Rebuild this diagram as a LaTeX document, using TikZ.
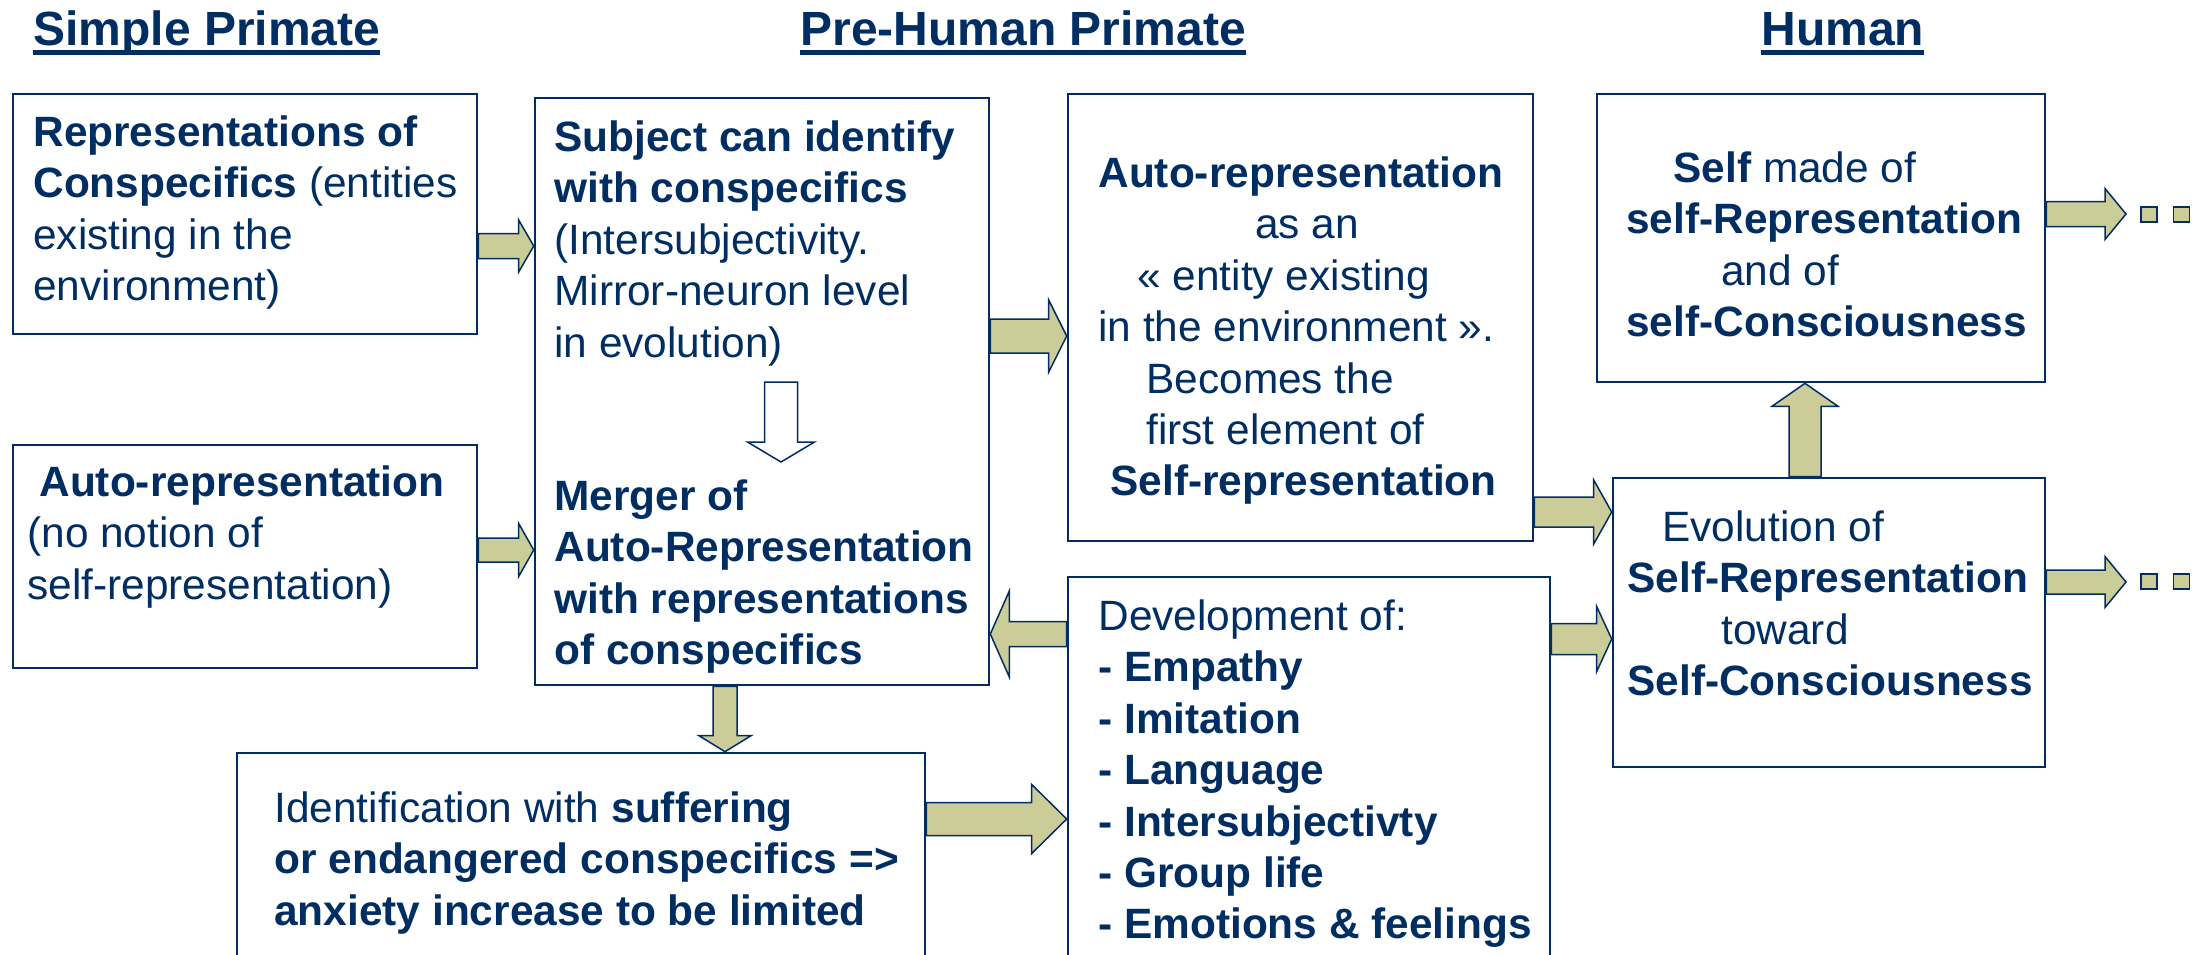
\documentclass[tikz,border=0pt]{standalone}
\usepackage{fontspec}
\setmainfont{Liberation Sans}
\usetikzlibrary{calc,fit}

\definecolor{navy}{RGB}{0,45,98}
\definecolor{khaki}{RGB}{204,204,153}
\newcommand{\topstrut}{\rule{0pt}{17pt}}
\newcommand{\titleline}[1]{\setbox0\hbox{#1}\rlap{\rule[-5pt]{\wd0}{2.4pt}}\box0}

% block arrow: [fill]{from}{to}{shaft half width}{head half width}{head length}
\newcommand{\flowarrow}[6][khaki]{%
  \path (#2) coordinate (fa-s) (#3) coordinate (fa-e);
  \path ($(fa-e)!#6!(fa-s)$) coordinate (fa-h);
  \draw[flow, fill=#1] ($(fa-s)!#4!90:(fa-e)$) -- ($(fa-h)!#4!90:(fa-e)$)
    -- ($(fa-h)!#5!90:(fa-e)$) -- (fa-e) -- ($(fa-h)!#5!-90:(fa-e)$)
    -- ($(fa-h)!#4!-90:(fa-e)$) -- ($(fa-s)!#4!-90:(fa-e)$) -- cycle;
}

\tikzset{
  box/.style={draw=navy, line width=1.3pt, inner sep=0pt},
  txt/.style={anchor=north west, align=left, inner sep=0pt, text=navy,
    font=\fontsize{21.2}{25.7}\selectfont},
  title/.style={anchor=base west, inner sep=0pt, text=navy,
    font=\fontsize{24}{29}\selectfont\bfseries},
  flow/.style={draw=navy, line width=0.75pt, line join=miter},
  endsq/.style={draw=navy, fill=khaki, line width=0.75pt, inner sep=0pt,
    minimum width=8pt, minimum height=7.5pt},
}

\begin{document}
\begin{tikzpicture}[x=0.5pt,y=-0.5pt]
\useasboundingbox (0,0) rectangle (2207,954);
\clip (0,0) rectangle (2207,954);
%% titles
\node[title] (tSimple) at (33,45) {\titleline{Simple Primate}};
\node[title] (tPre) at (800,45) {\titleline{Pre-Human Primate}};
\node[title] (tHuman) at (1761,45) {\titleline{Human}};
%% boxes
\node[box, fit={(13,94) (477,334)}] (RC) {};
\node[box, fit={(13,445) (477,668)}] (AR) {};
\node[box, fit={(535,98) (989,685)}] (SI) {};
\node[box, fit={(237,753) (925,975)}] (IS) {};
\node[box, fit={(1068,94) (1533,541)}] (AE) {};
\node[box, fit={(1068,577) (1550,975)}] (DV) {};
\node[box, fit={(1597,94) (2045,382)}] (SM) {};
\node[box, fit={(1613,478) (2045,767)}] (ES) {};
%% texts
\node[txt] (RCt) at (33,112) {\topstrut\textbf{Representations of}\\
  \textbf{Conspecifics} (entities\\ existing in the\\ environment)};
\node[txt] (ARt) at (27,462) {\topstrut\hspace*{6pt}\textbf{Auto-representation}\\
  (no notion of\\ self-representation)};
\node[txt] (SIt) at (554,117) {\topstrut\textbf{Subject can identify}\\
  \textbf{with conspecifics}\\ (Intersubjectivity.\\ Mirror-neuron level\\ in evolution)};
\node[txt] (SImrg) at (554,476) {\topstrut\textbf{Merger of}\\
  \textbf{Auto-Representation}\\ \textbf{with representations}\\ \textbf{of conspecifics}};
\node[txt] (ISt) at (274,788) {\topstrut Identification with \textbf{suffering}\\
  \textbf{or endangered conspecifics =>}\\ \textbf{anxiety increase to be limited}};
\node[txt] (AEt) at (1098,153) {\topstrut\textbf{Auto-representation}\\
  \hspace*{78.5pt}as an\\ \hspace*{19.5pt}« entity existing\\ in the environment ».\\
  \hspace*{24pt}Becomes the\\ \hspace*{24pt}first element of\\
  \hspace*{6pt}\textbf{Self-representation}};
\node[txt] (DVt) at (1098,596) {\topstrut Development of:\\ \textbf{- Empathy}\\
  \textbf{- Imitation}\\ \textbf{- Language}\\ \textbf{- Intersubjectivty}\\
  \textbf{- Group life}\\ \textbf{- Emotions \& feelings}};
\node[txt] (SMt) at (1626,148) {\topstrut\hspace*{23.5pt}\textbf{Self} made of\\
  \textbf{self-Representation}\\ \hspace*{47.5pt}and of\\ \textbf{self-Consciousness}};
\node[txt] (ESt) at (1627,507) {\topstrut\hspace*{17.5pt}Evolution of\\
  \textbf{Self-Representation}\\ \hspace*{47pt}toward\\ \textbf{Self-Consciousness}};
%% ends
\coordinate (mfrom) at (781,382);
\coordinate (mto) at (781,462);
\coordinate (SMout) at (2126,214);
\coordinate (ESout) at (2126,582);
\node[endsq] (SMd1) at (2149,214.5) {};
\node[endsq] (SMd2) at (2181.5,214.5) {};
\node[endsq] (ESd1) at (2149,581.5) {};
\node[endsq] (ESd2) at (2181.5,581.5) {};
%%% edges
\flowarrow{RC.east |- 0,246}{SI.west |- 0,246}{6.25pt}{13pt}{7.5pt}
\flowarrow{AR.east |- 0,550}{SI.west |- 0,550}{6pt}{13.25pt}{7.5pt}
\flowarrow{SI.east |- 0,336}{AE.west |- 0,336}{8.5pt}{18pt}{9pt}
\flowarrow[white]{mfrom}{mto}{8.25pt}{16.75pt}{10pt}
\flowarrow{SI.south -| 725,0}{IS.north -| 725,0}{6pt}{13pt}{8pt}
\flowarrow{IS.east |- 0,819}{DV.west |- 0,819}{8.25pt}{17.25pt}{17.5pt}
\flowarrow{DV.west |- 0,634}{SI.east |- 0,634}{6.25pt}{21.5pt}{9.5pt}
\flowarrow{AE.east |- 0,512}{ES.west |- 0,512}{7.5pt}{16pt}{9pt}
\flowarrow{DV.east |- 0,639}{ES.west |- 0,639}{7.75pt}{16.25pt}{7.5pt}
\flowarrow{ES.north -| 1805,0}{SM.south -| 1805,0}{8pt}{16.5pt}{11.5pt}
\flowarrow{SM.east |- 0,214}{SMout}{6.25pt}{12.75pt}{10.5pt}
\flowarrow{ES.east |- 0,582}{ESout}{6pt}{12.75pt}{10.5pt}
\end{tikzpicture}
\end{document}
